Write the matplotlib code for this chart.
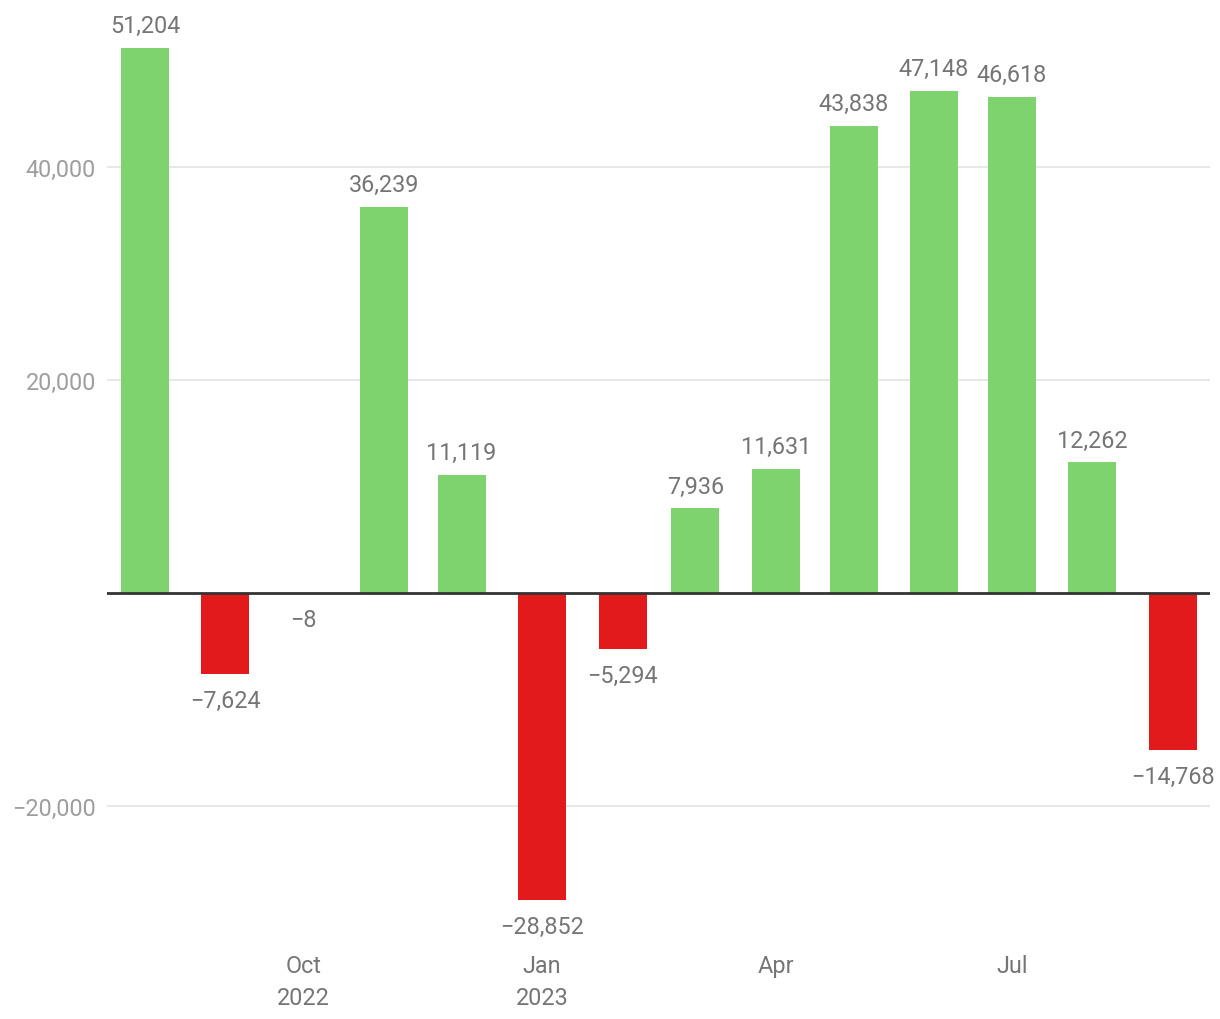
import matplotlib
matplotlib.use("Agg")
import matplotlib.pyplot as plt
from matplotlib.ticker import FuncFormatter
import pandas as pd

plt.rcParams['font.family'] = ['Roboto', 'DejaVu Sans']

months = ["2022-08-01", "2022-09-01", "2022-10-01", "2022-11-01", "2022-12-01", "2023-01-01", "2023-02-01",
          "2023-03-01", "2023-04-01", "2023-05-01", "2023-06-01", "2023-07-01", "2023-08-01", "2023-09-01"]
values = [51204, -7624, -8, 36239, 11119, -28852, -5294, 7936, 11631, 43838, 47148, 46618, 12262, -14768]
tick_months = ["2022-10-01", "2023-01-01", "2023-04-01", "2023-07-01"]
tick_labels = ["Oct\n2022", "Jan\n2023", "Apr", "Jul"]
y_ticks = [-20000, 20000, 40000]

GREEN = "#7fd36e"
RED = "#e31a1c"

origin = pd.Timestamp(months[0])
def day_pos(s):
    return (pd.Timestamp(s) - origin).days

W, H = 1220, 1020
fig = plt.figure(figsize=(W / 100, H / 100), dpi=100)
left, right, top, bottom = 107, 1210, 10, 945
ax = fig.add_axes([left / W, (H - bottom) / H, (right - left) / W, (bottom - top) / H])

x = [day_pos(m) for m in months]
colors = [GREEN if v >= 0 else RED for v in values]
ax.bar(x, values, width=18.5, color=colors, zorder=2)

ax.set_xlim(x[0] - 14.6, x[-1] + 14.3)
px_per_unit = 213 / 20000
ax.set_ylim(-(bottom - 594) / px_per_unit, (594 - top) / px_per_unit)

ax.set_yticks(y_ticks)
ax.yaxis.set_major_formatter(FuncFormatter(lambda v, p: f"{int(v):,}".replace("-", "\u2212")))
ax.grid(axis='y', color="#e6e6e6", linewidth=1.3, zorder=0)
ax.axhline(0, color="#333333", linewidth=2, zorder=3)

ax.set_xticks([day_pos(m) for m in tick_months])
ax.set_xticklabels(tick_labels, linespacing=1.45)

for s in ax.spines.values():
    s.set_visible(False)
ax.tick_params(axis='both', length=0)
ax.tick_params(axis='y', labelsize=16.8, labelcolor="#9e9e9e", pad=8)
ax.tick_params(axis='x', labelsize=16.8, labelcolor="#757575", pad=7.5)

for xi, v in zip(x, values):
    txt = f"{v:,}".replace("-", "\u2212")
    off = 16 if v >= 0 else -19
    ax.annotate(txt, (xi, v), xytext=(0, off), textcoords="offset points",
                ha="center", va="center", fontsize=16.8, color="#757575", zorder=4)

fig.savefig("out.png", dpi=100)
